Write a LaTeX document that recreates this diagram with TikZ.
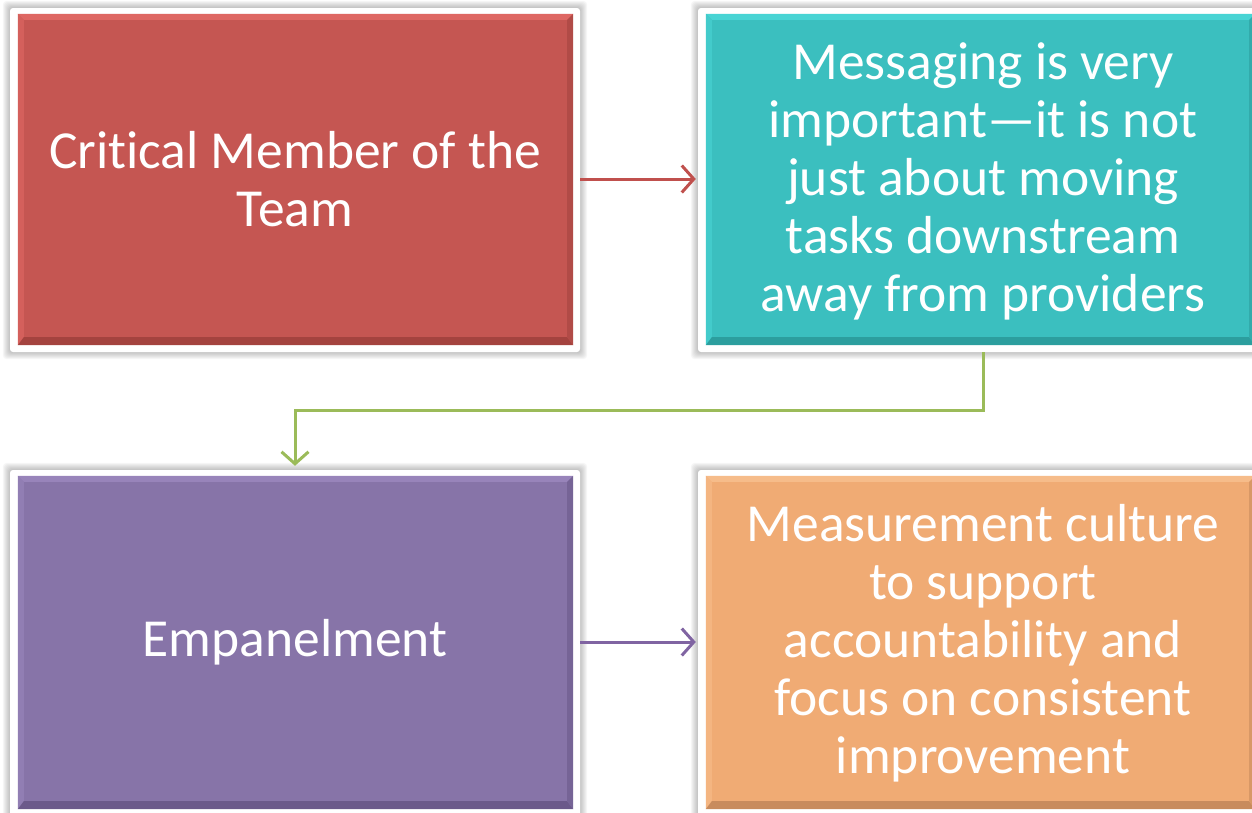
\documentclass[tikz,border=0pt]{standalone}
\usepackage{fontspec}
\setmainfont{Carlito}[Ligatures=NoCommon]
\usetikzlibrary{calc,arrows.meta}
\pgfdeclarelayer{bg}
\pgfsetlayers{bg,main}

\definecolor{redbase}{HTML}{C55652}\definecolor{redlight}{HTML}{DE6763}\definecolor{reddark}{HTML}{A4433F}
\definecolor{tealbase}{HTML}{3BBFBF}\definecolor{teallight}{HTML}{48D4D4}\definecolor{tealdark}{HTML}{2C9E9E}
\definecolor{purpbase}{HTML}{8774A8}\definecolor{purplight}{HTML}{9884BA}\definecolor{purpdark}{HTML}{6B598A}
\definecolor{orbase}{HTML}{F0AB74}\definecolor{orlight}{HTML}{F6BC8A}\definecolor{ordark}{HTML}{C88B5D}
\definecolor{redline}{HTML}{C0504D}
\definecolor{greenline}{HTML}{9BBB59}
\definecolor{purpline}{HTML}{8064A2}

\tikzset{
  frame/.style={fill=white, rounded corners=3pt, inner sep=0pt, minimum width=#1},
  frame/.default=570pt,
  label text/.style={text=white, align=center, font=\fontsize{53.5}{58}\selectfont, inner sep=0pt},
  link/.style={line width=3pt, -{Straight Barb[length=12pt,width=27pt,line width=3pt]}},
}

% soft shadow behind a white frame node
\newcommand\FrameShadow[1]{%
  \begin{pgfonlayer}{bg}
    \foreach \s in {1,...,7}{
      \fill[black, opacity=0.035, rounded corners=4pt]
        ($(#1.north west)+(-\s,-\s)$) rectangle ($(#1.south east)+(\s,\s)$);
    }
  \end{pgfonlayer}}

% bevelled coloured panel inset in a frame node
\newcommand\BevelPanel[4]{%
  \coordinate (#1a) at ($(#1.north west)+(8,6)$);
  \coordinate (#1b) at ($(#1.south east)+(-7,-7)$);
  \fill[#2] (#1a) rectangle (#1b);
  \fill[#3] (#1a) -- (#1a -| #1b) -- ($(#1a -| #1b)+(-6,6)$) -- ($(#1a)+(6,6)$) -- cycle;
  \fill[#3!60!#2] (#1a) -- (#1a |- #1b) -- ($(#1a |- #1b)+(6,-8)$) -- ($(#1a)+(6,6)$) -- cycle;
  \fill[#4] (#1b) -- (#1a |- #1b) -- ($(#1a |- #1b)+(6,-8)$) -- ($(#1b)+(-6,-8)$) -- cycle;
  \fill[#4!60!#2] (#1b) -- (#1a -| #1b) -- ($(#1a -| #1b)+(-6,6)$) -- ($(#1b)+(-6,-8)$) -- cycle;
}

\begin{document}
\begin{tikzpicture}[x=1pt,y=-1pt]
  \useasboundingbox (0,0) rectangle (1252,812);

  % frames
  \node[frame, minimum height=344pt] (f1) at (295,180) {};
  \node[frame=564pt, minimum height=344pt] (f2) at (980,180) {};
  \node[frame, minimum height=346pt] (f3) at (295,643) {};
  \node[frame=564pt, minimum height=346pt] (f4) at (980,643) {};
  \FrameShadow{f1}\FrameShadow{f2}\FrameShadow{f3}\FrameShadow{f4}

  % panels
  \BevelPanel{f1}{redbase}{redlight}{reddark}
  \BevelPanel{f2}{tealbase}{teallight}{tealdark}
  \BevelPanel{f3}{purpbase}{purplight}{purpdark}
  \BevelPanel{f4}{orbase}{orlight}{ordark}

  % texts
  \node[label text] (t1) at (295,179) {Crit\kern0pt ical Member of the\\Team};
  \node[label text] (t2) at (983,181) {Messaging is very\\important—it is not\\just about moving\\tasks downstream\\away from providers};
  \node[label text] (t3) at (295,642) {Empanelment};
  \node[label text] (t4) at (983,643) {Measurement culture\\to support\\accountability and\\focus on consistent\\improvement};

  % connectors
  \coordinate (bend1) at (983,410);
  \draw[link, redline] (f1.east |- 0,179) -- ($(f2.west |- 0,179)+(-2,0)$);
  \draw[link, greenline] (f2.south -| bend1) -- (bend1) -| ($(f3.north)+(0,-4)$);
  \draw[link, purpline] (f3.east |- 0,642) -- ($(f4.west |- 0,642)+(-2,0)$);
\end{tikzpicture}
\end{document}
